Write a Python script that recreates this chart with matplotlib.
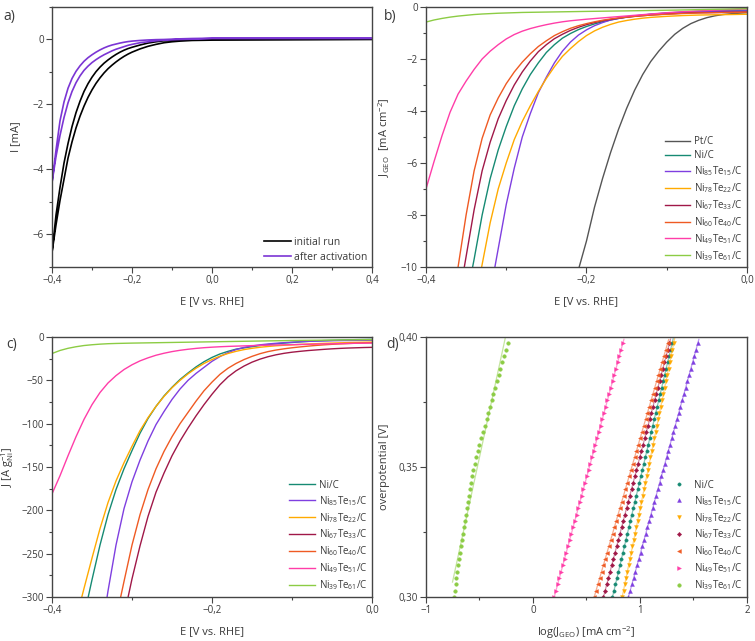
import matplotlib
matplotlib.use("Agg")
import matplotlib.pyplot as plt
import numpy as np
from matplotlib.ticker import FuncFormatter, MultipleLocator

plt.rcParams['font.family'] = ['Open Sans', 'DejaVu Sans']
plt.rcParams['mathtext.fontset'] = 'custom'
plt.rcParams['mathtext.rm'] = 'Open Sans'
plt.rcParams['mathtext.it'] = 'Open Sans:italic'
plt.rcParams['mathtext.bf'] = 'Open Sans:bold'

# ---------------- data ----------------
# a) CV before / after activation (two sweep branches each)
E_a = [-0.40, -0.39, -0.38, -0.37, -0.36, -0.35, -0.34, -0.33, -0.32, -0.31, -0.30,
       -0.29, -0.28, -0.27, -0.26, -0.25, -0.24, -0.23, -0.22, -0.21, -0.20, -0.18,
       -0.16, -0.14, -0.12, -0.10, -0.08, -0.05, 0.00, 0.20, 0.40]
initial_out = [-6.55, -5.7, -4.95, -4.3, -3.65, -3.15, -2.72, -2.36, -2.05, -1.78, -1.55,
               -1.35, -1.18, -1.03, -0.9, -0.79, -0.69, -0.6, -0.52, -0.45, -0.39, -0.29,
               -0.21, -0.15, -0.1, -0.07, -0.05, -0.03, -0.02, -0.01, 0.0]
initial_back = [-6.55, -5.4, -4.55, -3.8, -3.2, -2.68, -2.25, -1.9, -1.6, -1.36, -1.16,
                -0.99, -0.85, -0.73, -0.63, -0.54, -0.46, -0.39, -0.33, -0.28, -0.24, -0.17,
                -0.11, -0.07, -0.04, -0.02, -0.01, 0.0, 0.01, 0.02, 0.02]
activated_out = [-4.4, -3.6, -2.95, -2.4, -1.95, -1.6, -1.33, -1.12, -0.95, -0.82, -0.71,
                 -0.62, -0.54, -0.47, -0.41, -0.35, -0.3, -0.26, -0.22, -0.18, -0.15, -0.1,
                 -0.07, -0.04, -0.02, -0.01, 0.0, 0.01, 0.03, 0.03, 0.03]
activated_back = [-4.4, -3.4, -2.5, -1.92, -1.5, -1.2, -0.98, -0.81, -0.67, -0.56, -0.47,
                  -0.39, -0.32, -0.26, -0.21, -0.17, -0.14, -0.11, -0.085, -0.065, -0.05, -0.03,
                  -0.015, -0.005, 0.0, 0.01, 0.02, 0.03, 0.04, 0.04, 0.04]

# b) / c) LSV, potential grid -0.40 ... 0.00 V (step 0.01 V)
E_lsv = np.round(np.linspace(-0.40, 0.0, 41), 3)
nan = np.nan
labels = ['Pt/C', 'Ni/C', r'Ni$_\mathrm{85}$Te$_\mathrm{15}$/C', r'Ni$_\mathrm{78}$Te$_\mathrm{22}$/C',
          r'Ni$_\mathrm{67}$Te$_\mathrm{33}$/C', r'Ni$_\mathrm{60}$Te$_\mathrm{40}$/C',
          r'Ni$_\mathrm{49}$Te$_\mathrm{51}$/C', r'Ni$_\mathrm{39}$Te$_\mathrm{61}$/C']
colors = ['#555555', '#168a73', '#7f3fe0', '#ffaa00', '#a01848', '#ef5a23', '#ff3da8', '#8ccc44']

J_geo_pt = [nan] * 18 + [-11.3, -10.1, -9.0, -7.7, -6.6, -5.6, -4.7, -3.9, -3.2, -2.6, -2.1, -1.7,
                         -1.35, -1.05, -0.82, -0.64, -0.51, -0.41, -0.34, -0.29, -0.26, -0.24, -0.22]
J_geo_ni = [nan] * 5 + [-11.3, -9.7, -8.0, -6.6, -5.5, -4.6, -3.8, -3.15, -2.6, -2.15, -1.75, -1.45,
                        -1.2, -1.02, -0.87, -0.75, -0.65, -0.57, -0.5, -0.44, -0.39, -0.35, -0.315,
                        -0.28, -0.255, -0.23, -0.215, -0.2, -0.185, -0.17, -0.16, -0.15, -0.145,
                        -0.14, -0.135, -0.13]
J_geo_ni85 = [nan] * 8 + [-11.0, -9.3, -7.6, -6.2, -5.0, -4.1, -3.3, -2.7, -2.15, -1.7, -1.35, -1.08,
                          -0.88, -0.72, -0.6, -0.5, -0.44, -0.38, -0.34, -0.31, -0.28, -0.26, -0.24,
                          -0.225, -0.21, -0.2, -0.19, -0.18, -0.17, -0.165, -0.16, -0.155, -0.15]
J_geo_ni78 = [nan] * 6 + [-11.5, -9.9, -8.3, -7.0, -6.0, -5.1, -4.4, -3.8, -3.25, -2.75, -2.3, -1.9,
                          -1.6, -1.33, -1.1, -0.92, -0.78, -0.67, -0.58, -0.52, -0.47, -0.43, -0.4,
                          -0.38, -0.36, -0.345, -0.33, -0.32, -0.31, -0.305, -0.3, -0.295, -0.29,
                          -0.285, -0.28]
J_geo_ni67 = [nan] * 4 + [-11.4, -9.6, -7.8, -6.3, -5.2, -4.3, -3.6, -3.0, -2.5, -2.08, -1.72, -1.45,
                          -1.22, -1.05, -0.9, -0.78, -0.68, -0.6, -0.53, -0.48, -0.43, -0.395, -0.36,
                          -0.335, -0.31, -0.29, -0.27, -0.255, -0.24, -0.23, -0.22, -0.215, -0.21,
                          -0.205, -0.2, -0.195, -0.19]
J_geo_ni60 = [nan] * 3 + [-12.4, -10.0, -8.0, -6.3, -5.05, -4.15, -3.5, -2.95, -2.5, -2.12, -1.8, -1.52,
                          -1.3, -1.1, -0.95, -0.82, -0.72, -0.64, -0.57, -0.51, -0.46, -0.42, -0.39,
                          -0.36, -0.335, -0.31, -0.295, -0.28, -0.265, -0.25, -0.24, -0.23, -0.225,
                          -0.22, -0.215, -0.21, -0.205, -0.2]
J_geo_ni49 = [-7.0, -5.95, -4.95, -4.05, -3.35, -2.85, -2.4, -2.0, -1.7, -1.45, -1.23, -1.06, -0.93,
              -0.83, -0.75, -0.68, -0.62, -0.57, -0.53, -0.5, -0.47, -0.445, -0.42, -0.395, -0.37,
              -0.345, -0.32, -0.295, -0.27, -0.245, -0.22, -0.2, -0.18, -0.165, -0.15, -0.135,
              -0.12, -0.11, -0.1, -0.09, -0.08]
J_geo_ni39 = [-0.58, -0.5, -0.44, -0.39, -0.35, -0.32, -0.29, -0.27, -0.255, -0.24, -0.23, -0.22,
              -0.21, -0.205, -0.2, -0.195, -0.19, -0.185, -0.18, -0.175, -0.17, -0.166, -0.162,
              -0.158, -0.154, -0.15, -0.145, -0.14, -0.135, -0.13, -0.125, -0.12, -0.114, -0.108,
              -0.102, -0.096, -0.09, -0.084, -0.078, -0.072, -0.066]

J_mass_ni = [nan] * 4 + [-322, -280, -240, -205, -176, -152, -131, -111, -94, -80, -68, -58, -49,
                         -41.5, -34.5, -28.5, -23.5, -19.5, -16.5, -14, -12.5, -11.1, -9.8, -8.7,
                         -7.8, -7.0, -6.3, -5.6, -5.0, -4.5, -4.1, -3.8, -3.5, -3.2, -3.0, -2.85, -2.7]
J_mass_ni85 = [nan] * 6 + [-352, -293, -240, -198, -167, -142, -120, -101, -86, -72, -60, -50, -42,
                           -35, -28, -22.5, -18, -14.5, -12, -10.3, -9.0, -8.0, -7.2, -6.5, -5.9,
                           -5.4, -5.0, -4.7, -4.5, -4.3, -4.1, -4.0, -3.9, -3.8, -3.7]
J_mass_ni78 = [nan] * 3 + [-326, -290, -255, -221, -191, -166, -145, -126, -108, -93, -80, -68.5,
                           -58.5, -50, -42.5, -36, -30.5, -26, -22, -19, -16.5, -14.5, -13, -11.8,
                           -10.9, -10.1, -9.5, -9.0, -8.5, -8.1, -7.7, -7.3, -7.0, -6.7, -6.4, -6.2,
                           -6.0, -5.8]
J_mass_ni67 = [nan] * 9 + [-322, -279, -241, -207, -179, -157, -137, -120, -105, -91, -78, -66, -55,
                           -46, -39, -33.5, -29, -25.5, -22.7, -20.5, -18.8, -17.5, -16.5, -15.6,
                           -14.9, -14.2, -13.6, -13.1, -12.7, -12.4, -12.1, -11.9]
J_mass_ni60 = [nan] * 8 + [-325, -282, -240, -205, -176, -152, -132, -115, -100, -87, -74, -62, -52,
                           -43, -36, -30.5, -26, -22.3, -19.2, -16.8, -15, -13.6, -12.4, -11.4, -10.5,
                           -9.7, -9.0, -8.4, -7.9, -7.5, -7.1, -6.8, -6.5]
J_mass_ni49 = [-181, -160, -137, -115, -95, -78, -64, -53, -44.5, -37.5, -32, -27.5, -24, -21, -18.7,
               -16.8, -15.3, -14.1, -13.1, -12.3, -11.7, -11.2, -10.8, -10.5, -10.2, -9.9, -9.6,
               -9.4, -9.2, -9.0, -8.8, -8.6, -8.4, -8.2, -8.0, -7.8, -7.6, -7.4, -7.2, -7.1, -7.0]
J_mass_ni39 = [-19, -15.5, -13, -11.2, -9.8, -8.9, -8.2, -7.7, -7.4, -7.2, -7.0, -6.85, -6.7, -6.55,
               -6.4, -6.25, -6.1, -5.95, -5.8, -5.65, -5.5, -5.35, -5.2, -5.05, -4.9, -4.75, -4.6,
               -4.45, -4.3, -4.15, -4.0, -3.9, -3.8, -3.7, -3.6, -3.5, -3.4, -3.3, -3.2, -3.1, -3.0]

# d) Tafel data: overpotential grid (acquisition step 2.44 mV) and log(J_GEO)
eta = 0.300 + 0.00244 * np.arange(41)
logj_ni = [0.743, 0.757, 0.771, 0.785, 0.799, 0.813, 0.827, 0.841, 0.854, 0.868, 0.882, 0.896,
           0.910, 0.924, 0.938, 0.952, 0.966, 0.980, 0.994, 1.008, 1.022, 1.036, 1.049, 1.063,
           1.077, 1.091, 1.105, 1.119, 1.133, 1.147, 1.161, 1.175, 1.189, 1.203, 1.217, 1.231,
           1.244, 1.258, 1.272, 1.286, 1.300]
logj_ni85 = [0.892, 0.908, 0.924, 0.941, 0.957, 0.973, 0.989, 1.005, 1.022, 1.038, 1.054, 1.070,
             1.086, 1.103, 1.119, 1.135, 1.151, 1.167, 1.184, 1.200, 1.216, 1.232, 1.248, 1.265,
             1.281, 1.297, 1.313, 1.329, 1.346, 1.362, 1.378, 1.394, 1.410, 1.427, 1.443, 1.459,
             1.475, 1.491, 1.508, 1.524, 1.540]
logj_ni78 = [0.834, 0.846, 0.858, 0.870, 0.882, 0.894, 0.906, 0.918, 0.930, 0.942, 0.954, 0.966,
             0.978, 0.990, 1.002, 1.014, 1.026, 1.038, 1.050, 1.062, 1.074, 1.086, 1.098, 1.110,
             1.122, 1.134, 1.146, 1.158, 1.170, 1.182, 1.194, 1.206, 1.219, 1.231, 1.243, 1.255,
             1.267, 1.279, 1.291, 1.303, 1.315]
logj_ni67 = [0.659, 0.674, 0.690, 0.705, 0.721, 0.736, 0.751, 0.767, 0.782, 0.798, 0.813, 0.828,
             0.844, 0.859, 0.875, 0.890, 0.905, 0.921, 0.936, 0.952, 0.967, 0.982, 0.998, 1.013,
             1.029, 1.044, 1.059, 1.075, 1.090, 1.106, 1.121, 1.136, 1.152, 1.167, 1.183, 1.198,
             1.213, 1.229, 1.244, 1.260, 1.275]
logj_ni60 = [0.572, 0.589, 0.606, 0.623, 0.641, 0.658, 0.675, 0.692, 0.709, 0.726, 0.744, 0.761,
             0.778, 0.795, 0.812, 0.829, 0.846, 0.864, 0.881, 0.898, 0.915, 0.932, 0.949, 0.966,
             0.984, 1.001, 1.018, 1.035, 1.052, 1.069, 1.086, 1.104, 1.121, 1.138, 1.155, 1.172,
             1.189, 1.206, 1.224, 1.241, 1.258]
logj_ni49 = [0.199, 0.215, 0.231, 0.247, 0.263, 0.279, 0.295, 0.311, 0.327, 0.343, 0.359, 0.375,
             0.391, 0.407, 0.423, 0.439, 0.455, 0.471, 0.487, 0.503, 0.519, 0.535, 0.551, 0.567,
             0.583, 0.599, 0.615, 0.631, 0.647, 0.663, 0.680, 0.696, 0.712, 0.728, 0.744, 0.760,
             0.776, 0.792, 0.808, 0.824, 0.840]
logj_ni39 = [-0.742, -0.733, -0.724, -0.715, -0.706, -0.697, -0.688, -0.679, -0.670, -0.661, -0.652,
             -0.643, -0.634, -0.625, -0.616, -0.607, -0.598, -0.589, -0.580, -0.570, -0.558, -0.546,
             -0.532, -0.517, -0.501, -0.485, -0.468, -0.451, -0.434, -0.418, -0.402, -0.386, -0.370,
             -0.354, -0.338, -0.322, -0.305, -0.288, -0.271, -0.253, -0.235]

J_geo = [J_geo_pt, J_geo_ni, J_geo_ni85, J_geo_ni78, J_geo_ni67, J_geo_ni60, J_geo_ni49, J_geo_ni39]
J_mass = [J_mass_ni, J_mass_ni85, J_mass_ni78, J_mass_ni67, J_mass_ni60, J_mass_ni49, J_mass_ni39]
logj = [logj_ni, logj_ni85, logj_ni78, logj_ni67, logj_ni60, logj_ni49, logj_ni39]
markers = ['o', '^', 'v', 'D', '<', '>', 'o']
msizes = [2.4, 2.8, 2.8, 2.2, 2.8, 2.8, 2.6]

# ---------------- style helpers ----------------
txt = '#3a3a3a'


def comma(fmt):
    def f(v, pos):
        if abs(v) < 1e-9:
            v = 0.0
        return (fmt % v).replace('.', ',').replace('-', '\u2212')
    return FuncFormatter(f)


def style(ax):
    for s in ax.spines.values():
        s.set_color('#444444')
        s.set_linewidth(1.0)
    ax.tick_params(which='both', direction='out', color='#444444', labelcolor=txt,
                   labelsize=7, width=0.8, pad=2)
    ax.tick_params(which='major', length=4)
    ax.tick_params(which='minor', length=2.5)


fig = plt.figure(figsize=(7.55, 6.41), dpi=100)
axa = fig.add_axes([0.0689, 0.5835, 0.4238, 0.4056])
axb = fig.add_axes([0.5642, 0.5835, 0.4252, 0.4056])
axc = fig.add_axes([0.0689, 0.0686, 0.4238, 0.4056])
axd = fig.add_axes([0.5642, 0.0686, 0.4252, 0.4056])

# ---- a ----
Ea = np.array(E_a)
axa.plot(np.r_[Ea, Ea[::-1]], np.r_[initial_out, initial_back[::-1]], color='black', lw=1.2,
         label='initial run')
axa.plot(np.r_[Ea, Ea[::-1]], np.r_[activated_out, activated_back[::-1]], color='#7b35d4', lw=1.2,
         label='after activation')
axa.set_xlim(-0.4, 0.4)
axa.set_ylim(-7, 1)
axa.xaxis.set_major_locator(MultipleLocator(0.2))
axa.xaxis.set_minor_locator(MultipleLocator(0.1))
axa.yaxis.set_major_locator(MultipleLocator(2))
axa.yaxis.set_minor_locator(MultipleLocator(1))
axa.xaxis.set_major_formatter(comma('%.1f'))
axa.yaxis.set_major_formatter(comma('%d'))
axa.set_xlabel('E [V vs. RHE]', fontsize=8, color=txt, labelpad=7)
axa.set_ylabel('I [mA]', fontsize=8, color=txt, labelpad=8)
axa.legend(loc='lower right', frameon=False, fontsize=7.5, handlelength=2.6, labelspacing=0.4,
           borderaxespad=0.0, handletextpad=0.3, labelcolor=txt)
style(axa)

# ---- b ----
for J, c, l in zip(J_geo, colors, labels):
    axb.plot(E_lsv, J, color=c, lw=1.0, label=l)
axb.set_xlim(-0.4, 0.0)
axb.set_ylim(-10, 0)
axb.xaxis.set_major_locator(MultipleLocator(0.2))
axb.xaxis.set_minor_locator(MultipleLocator(0.1))
axb.yaxis.set_major_locator(MultipleLocator(2))
axb.yaxis.set_minor_locator(MultipleLocator(1))
axb.xaxis.set_major_formatter(comma('%.1f'))
axb.yaxis.set_major_formatter(comma('%d'))
axb.set_xlabel('E [V vs. RHE]', fontsize=8, color=txt, labelpad=7)
axb.set_ylabel(r'J$_\mathrm{GEO}$  [mA cm$^\mathrm{-2}$]', fontsize=8, color=txt, labelpad=6)
axb.legend(loc='lower right', frameon=False, fontsize=7, handlelength=2.6, labelspacing=0.32,
           borderaxespad=0.05, handletextpad=0.4, labelcolor=txt)
style(axb)

# ---- c ----
for J, c, l in zip(J_mass, colors[1:], labels[1:]):
    axc.plot(E_lsv, J, color=c, lw=1.0, label=l)
axc.set_xlim(-0.4, 0.0)
axc.set_ylim(-300, 0)
axc.xaxis.set_major_locator(MultipleLocator(0.2))
axc.xaxis.set_minor_locator(MultipleLocator(0.1))
axc.yaxis.set_major_locator(MultipleLocator(50))
axc.yaxis.set_minor_locator(MultipleLocator(25))
axc.xaxis.set_major_formatter(comma('%.1f'))
axc.yaxis.set_major_formatter(comma('%d'))
axc.set_xlabel('E [V vs. RHE]', fontsize=8, color=txt, labelpad=7)
axc.set_ylabel(r'J [A g$_\mathrm{Ni}^\mathrm{-1}$]', fontsize=8, color=txt, labelpad=4)
axc.legend(loc='lower right', frameon=False, fontsize=7, handlelength=2.6, labelspacing=0.32,
           borderaxespad=0.1, handletextpad=0.4, labelcolor=txt)
style(axc)

# ---- d ----
for lj, c, l, m, ms in zip(logj, colors[1:], labels[1:], markers, msizes):
    lj = np.array(lj)
    k, b0 = np.polyfit(lj, eta, 1)
    xs = np.array([lj.min() - 0.01, lj.max() + 0.01])
    axd.plot(xs, k * xs + b0, color=c, lw=0.9, alpha=0.5)
    axd.plot(lj, eta, ls='none', marker=m, ms=ms, color=c, mec=c, mew=0.3, label=l)
axd.set_xlim(-1, 2)
axd.set_ylim(0.30, 0.40)
axd.xaxis.set_major_locator(MultipleLocator(1))
axd.xaxis.set_minor_locator(MultipleLocator(0.5))
axd.yaxis.set_major_locator(MultipleLocator(0.05))
axd.yaxis.set_minor_locator(MultipleLocator(0.025))
axd.xaxis.set_major_formatter(comma('%d'))
axd.yaxis.set_major_formatter(comma('%.2f'))
axd.set_xlabel(r'log(J$_\mathrm{GEO}$) [mA cm$^\mathrm{-2}$]', fontsize=8, color=txt, labelpad=6)
axd.set_ylabel('overpotential [V]', fontsize=8, color=txt, labelpad=6)
axd.legend(loc='lower right', frameon=False, fontsize=7, handlelength=1.5, labelspacing=0.32,
           borderaxespad=0.1, handletextpad=0.8, labelcolor=txt)
style(axd)

for x, y, s in [(0.005, 0.975, 'a)'), (0.508, 0.975, 'b)'), (0.008, 0.462, 'c)'), (0.512, 0.462, 'd)')]:
    fig.text(x, y, s, fontsize=10, color=txt, va='center')

fig.savefig('out.png', dpi=100)
